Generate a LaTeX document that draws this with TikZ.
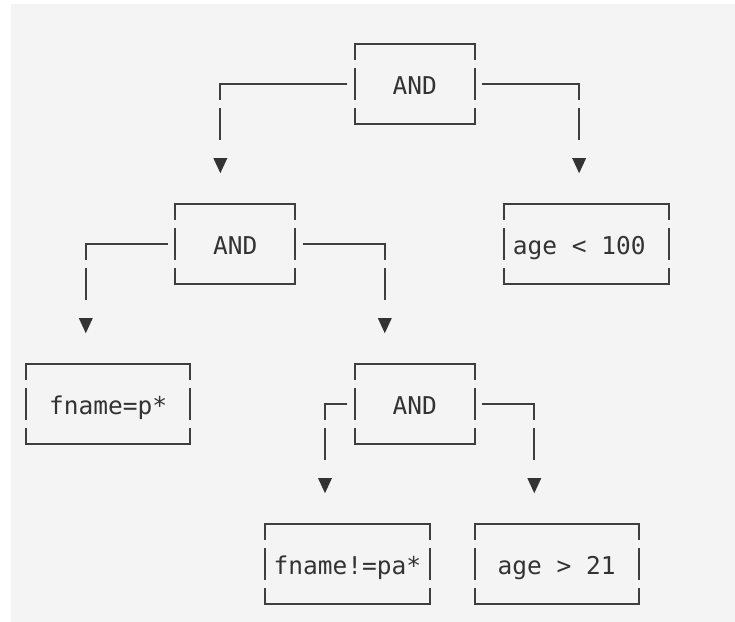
\documentclass[tikz,border=0pt]{standalone}
\usepackage{fontspec}
\usetikzlibrary{calc}
\newfontfamily\monofont{DejaVu Sans Mono}
\definecolor{panel}{HTML}{F4F4F4}
\definecolor{inkline}{HTML}{3E3E3E}
\definecolor{inktext}{HTML}{333333}
\tikzset{
  ln/.style={draw=inkline, line width=2pt, line cap=butt, line join=miter},
  txt/.style={inner sep=0pt, anchor=base, text=inktext, font=\monofont\fontsize{24.5}{28}\selectfont},
  tri/.style={fill=inktext, draw=none}
}
% box: name, left col, right col, top row, text centre col, text
\newcommand\abox[6]{%
  \draw[ln] (#2,#4+0.4) -- (#2,#4) -- (#3,#4) -- (#3,#4+0.4);
  \draw[ln] (#2,#4+1.6) -- (#2,#4+2) -- (#3,#4+2) -- (#3,#4+1.6);
  \draw[ln] (#2,#4+0.6) -- (#2,#4+1.4);
  \draw[ln] (#3,#4+0.6) -- (#3,#4+1.4);
  \node[txt] (#1) at (#5,#4+1.25) {#6};
}
% connector: name, start col (box edge +/- 0.5), corner col, row
\newcommand\aconn[4]{%
  \coordinate (#1-s) at (#2,#4);
  \coordinate (#1-c) at (#3,#4);
  \draw[ln] (#1-s) -- (#1-c) -- ++(0,0.4);
  \draw[ln] ($(#1-c)+(0,0.6)$) -- ($(#1-c)+(0,1.4)$);
  \fill[tri] ($(#1-c)+(-0.47,1.85)$) -- ($(#1-c)+(0.47,1.85)$) -- ($(#1-c)+(0,2.23)$) -- cycle;
}
\begin{document}
\begin{tikzpicture}[x=14.95pt, y=-40pt]
  \useasboundingbox (-1.7391,-1.1) rectangle (47.425,14.45);
  \fill[white] (-1.7391,-1.1) rectangle (47.425,14.45);
  \fill[panel] (-1.0,-1.0) rectangle (47.425,14.45);

  % top AND
  \abox{and1}{22}{30}{0}{26}{AND}
  \aconn{c1}{21.5}{13}{1}
  \aconn{c2}{30.5}{37}{1}

  % second AND
  \abox{and2}{10}{18}{4}{14}{AND}
  \abox{lt100}{32}{43}{4}{37}{age < 100}
  \aconn{c3}{9.5}{4}{5}
  \aconn{c4}{18.5}{24}{5}

  % third level
  \abox{fnp}{0}{11}{8}{5.5}{fname=p*}
  \abox{and3}{22}{30}{8}{26}{AND}
  \aconn{c5}{21.5}{20}{9}
  \aconn{c6}{30.5}{34}{9}

  % leaves
  \abox{fnpa}{16}{27}{12}{21.5}{fname!=pa*}
  \abox{gt21}{30}{41}{12}{35.5}{age > 21}
\end{tikzpicture}
\end{document}
